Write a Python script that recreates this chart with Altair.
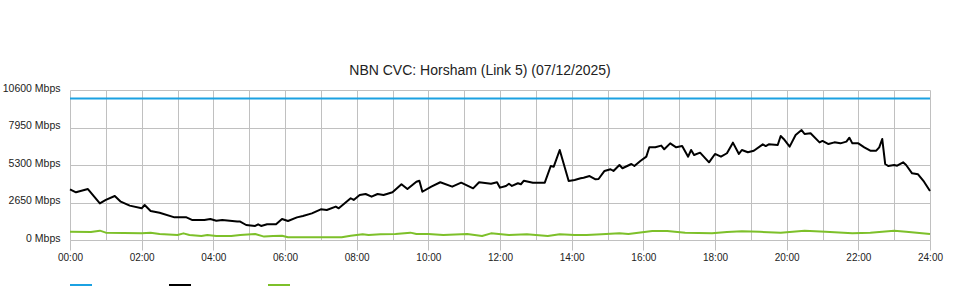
import altair as alt
import pandas as pd

# ---- data ----
cap_times = ["00:00", "24:00"]
cap_values = [10000, 10000]

down_times = ["00:00", "00:10", "00:30", "00:50", "01:00", "01:15", "01:25", "01:40", "02:00", "02:05",
              "02:15", "02:30", "02:55", "03:15", "03:25", "03:45", "03:55", "04:05", "04:15", "04:40",
              "04:45", "04:55", "05:10", "05:15", "05:20", "05:30", "05:45", "05:55", "06:05", "06:20",
              "06:30", "06:45", "07:00", "07:10", "07:25", "07:30", "07:40", "07:50", "07:55", "08:05",
              "08:15", "08:25", "08:35", "08:45", "09:00", "09:15", "09:25", "09:40", "09:45", "09:50",
              "10:05", "10:20", "10:40", "10:55", "11:15", "11:25", "11:45", "11:55", "12:00", "12:10",
              "12:15", "12:20", "12:30", "12:35", "12:40", "12:55", "13:15", "13:25", "13:30", "13:40",
              "13:55", "14:05", "14:15", "14:20", "14:30", "14:40", "14:45", "14:55", "15:05", "15:10",
              "15:20", "15:25", "15:40", "15:45", "15:55", "16:05", "16:10", "16:20", "16:30", "16:35",
              "16:45", "16:55", "17:05", "17:15", "17:20", "17:25", "17:35", "17:50", "18:00", "18:10",
              "18:20", "18:30", "18:40", "18:45", "18:55", "19:05", "19:20", "19:25", "19:30", "19:45",
              "19:50", "19:55", "20:05", "20:15", "20:25", "20:30", "20:40", "20:55", "21:00", "21:10",
              "21:20", "21:30", "21:40", "21:45", "21:50", "22:00", "22:10", "22:20", "22:30", "22:35",
              "22:40", "22:45", "22:50", "23:00", "23:05", "23:15", "23:20", "23:30", "23:40", "23:50",
              "24:00"]
down_values = [3580, 3370, 3600, 2590, 2830, 3110, 2710, 2430, 2240, 2470,
               2050, 1930, 1600, 1600, 1410, 1410, 1480, 1360, 1410, 1300,
               1300, 1060, 990, 1110, 990, 1110, 1110, 1480, 1340, 1600,
               1700, 1880, 2170, 2120, 2360, 2240, 2590, 2950, 2830, 3180,
               3250, 3060, 3250, 3180, 3370, 3940, 3600, 4120, 4190, 3410,
               3770, 4080, 3770, 4050, 3650, 4080, 3980, 4080, 3700, 3820,
               3980, 3820, 4010, 3940, 4190, 4050, 4050, 5230, 5180, 6360,
               4170, 4240, 4360, 4400, 4520, 4290, 4310, 4880, 5000, 4880,
               5300, 5070, 5370, 5230, 5580, 5890, 6550, 6550, 6670, 6410,
               6830, 6550, 6640, 5890, 6360, 6010, 6170, 5490, 6080, 5890,
               6130, 6880, 6080, 6360, 6200, 6310, 6760, 6640, 6760, 6710,
               7350, 7140, 6600, 7420, 7770, 7490, 7540, 6900, 7000, 6780,
               6900, 6830, 6950, 7230, 6830, 6830, 6550, 6310, 6310, 6550,
               7140, 5370, 5230, 5300, 5250, 5490, 5300, 4710, 4640, 4120,
               3460]

up_times = ["00:00", "00:35", "00:50", "01:00", "02:00", "02:15", "02:30", "03:00", "03:10", "03:20",
            "03:40", "03:50", "04:05", "04:30", "04:45", "05:10", "05:25", "05:40", "05:55", "06:05",
            "06:55", "07:35", "07:50", "08:10", "08:20", "08:40", "09:05", "09:30", "09:40", "10:00",
            "10:25", "11:05", "11:30", "11:45", "12:15", "12:45", "13:20", "13:40", "14:05", "14:25",
            "14:50", "15:20", "15:35", "16:15", "16:40", "17:10", "17:55", "18:20", "18:45", "19:15",
            "19:50", "20:30", "21:05", "21:50", "22:20", "23:00", "23:20", "24:00"]
up_values = [590, 570, 660, 520, 470, 520, 420, 350, 470, 350,
             280, 350, 280, 280, 350, 420, 240, 280, 300, 190,
             190, 190, 300, 400, 350, 400, 420, 520, 420, 420,
             350, 420, 280, 470, 350, 400, 280, 400, 350, 350,
             400, 470, 420, 640, 640, 520, 470, 570, 610, 580,
             520, 660, 590, 470, 520, 660, 590, 420]

series_names = ["Capacity", "Download", "Upload"]
series_colors = ["#1ba1e2", "#000000", "#7dc02a"]
x_hours = list(range(0, 25))
y_ticks = [0, 2650, 5300, 7950, 10600]
title_text = "NBN CVC: Horsham (Link 5) (07/12/2025)"


def to_hour(t):
    h, m = t.split(":")
    return int(h) + int(m) / 60.0


rows = []
for name, ts, vs in [("Capacity", cap_times, cap_values),
                     ("Download", down_times, down_values),
                     ("Upload", up_times, up_values)]:
    for t, v in zip(ts, vs):
        rows.append({"series": name, "hour": to_hour(t), "mbps": v})
df = pd.DataFrame(rows)

GRID = "#c0c0c0"
FONT = "Liberation Sans"

chart = alt.Chart(df).mark_line(strokeWidth=2, strokeJoin="round").encode(
    x=alt.X("hour:Q",
            scale=alt.Scale(domain=[0, 24], nice=False, zero=False),
            axis=alt.Axis(values=x_hours, title=None,
                          labelExpr="datum.value % 2 == 0 ? (datum.value < 10 ? '0' : '') + datum.value + ':00' : ''",
                          tickOpacity={"condition": {"test": "datum.value % 2 == 0", "value": 1}, "value": 0},
                          tickSize=10, tickColor=GRID, domainColor=GRID, gridColor=GRID,
                          labelFontSize=10, labelPadding=2, labelFlush=False,
                          labelColor="#222", labelFont=FONT)),
    y=alt.Y("mbps:Q",
            scale=alt.Scale(domain=[0, 10600], nice=False),
            axis=alt.Axis(values=y_ticks, title=None, labelExpr="datum.value + ' Mbps'",
                          ticks=False, domain=False, gridColor=GRID, labelPadding=10,
                          labelOffset=-2,
                          labelFontSize=10.5, labelColor="#222", labelFont=FONT)),
    color=alt.Color("series:N",
                    scale=alt.Scale(domain=series_names, range=series_colors),
                    legend=alt.Legend(orient="none", legendX=-1, legendY=183, direction="horizontal",
                                      symbolType="stroke", symbolSize=484, symbolStrokeWidth=2,
                                      labelExpr="''", title=None, columnPadding=69, labelOffset=0)),
).properties(
    width=860, height=150,
    autosize=alt.AutoSizeParams(type="none"),
    padding={"left": 70, "top": 90, "right": 30, "bottom": 60},
    title=alt.TitleParams(title_text, fontSize=14, font=FONT, fontWeight="normal",
                          color="#222", anchor="middle", dx=-20, offset=5),
    background="white",
).configure_view(strokeWidth=0)

chart.save("out.html", embed_options={"renderer": "svg", "actions": False})
